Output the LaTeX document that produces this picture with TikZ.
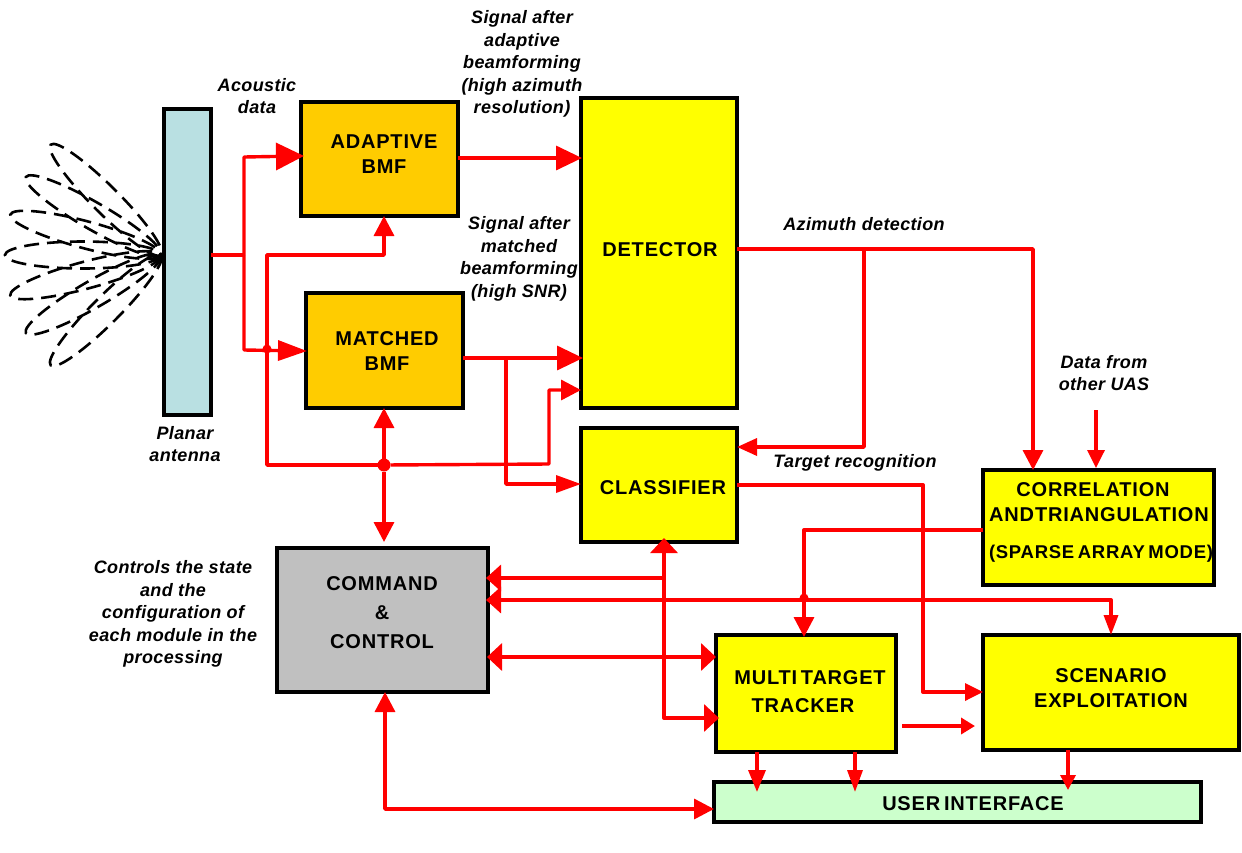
\documentclass[tikz,border=0pt]{standalone}
\usepackage{fontspec}
\setmainfont{Liberation Sans}
\newfontfamily\boxfont[LetterSpace=4,WordSpace=0.6]{Liberation Sans}
\newfontfamily\notefont[LetterSpace=2]{Liberation Sans}
\usetikzlibrary{arrows.meta,calc}
\definecolor{pureyellow}{RGB}{255,255,0}
\definecolor{amber}{RGB}{255,204,0}
\definecolor{palecyan}{RGB}{185,224,226}
\definecolor{panelgray}{RGB}{192,192,192}
\definecolor{palegreen}{RGB}{204,255,204}
\definecolor{wirered}{RGB}{255,0,0}
\tikzset{
  x=1pt,y=-1pt,
  box/.style={draw=black,line width=3.3pt,rectangle,inner sep=0pt,outer sep=0pt},
  boxtext/.style={font=\fontsize{20}{25}\boxfont\bfseries,align=center,inner sep=0pt},
  note/.style={font=\fontsize{18}{22.5}\notefont\bfseries\itshape,align=center,inner sep=0pt},
  wire/.style={draw=wirered,line width=3.4pt,line join=round},
  big/.style={-{Triangle[length=28pt,width=27pt]}},
  mid/.style={-{Triangle[length=26pt,width=24pt]}},
  std/.style={-{Triangle[length=20pt,width=20pt]}},
  stdboth/.style={{Triangle[length=20pt,width=20pt]}-{Triangle[length=20pt,width=20pt]}},
  thin tip/.style={-{Triangle[length=18pt,width=17pt]}},
  lobe/.style={draw=black,line width=2.6pt,dash pattern=on 15pt off 8pt},
  joint/.style={circle,fill=wirered,inner sep=0pt,outer sep=0pt}
}
\begin{document}
\begin{tikzpicture}
\useasboundingbox (0,0) rectangle (1242,852);

% beam pattern in front of the array
\coordinate (o) at (161,255);
\foreach \a in {-45,-30,-15,0,15,30,45}
  \draw[lobe,shift={(o)},rotate=\a] (-78,0) ellipse [x radius=78,y radius=13.5];

% processing blocks
\node[box,fill=palecyan,minimum width=47pt,minimum height=306pt] (antenna) at (187.5,262) {};
\node[box,fill=amber,minimum width=157pt,minimum height=114pt] (adaptive) at (379.5,159) {};
\node[box,fill=amber,minimum width=157pt,minimum height=115pt] (matched) at (384.5,350.5) {};
\node[box,fill=pureyellow,minimum width=156pt,minimum height=310pt] (detector) at (659,253) {};
\node[box,fill=pureyellow,minimum width=156pt,minimum height=114pt] (classifier) at (659,485) {};
\node[box,fill=panelgray,minimum width=211pt,minimum height=144pt] (command) at (382.5,620) {};
\node[box,fill=pureyellow,minimum width=180pt,minimum height=117pt] (tracker) at (806,693.5) {};
\node[box,fill=pureyellow,minimum width=256pt,minimum height=115pt] (scenario) at (1111,692.5) {};
\node[box,fill=pureyellow,minimum width=231pt,minimum height=115pt] (correlation) at (1098.5,527.5) {};
\node[box,fill=palegreen,minimum width=487pt,minimum height=40pt] (ui) at (957.5,802) {};

% block captions
\node[boxtext] (adaptive-t) at (384,154) {ADAPTIVE\\BMF};
\node[boxtext] (matched-t) at (387,351) {MATCHED\\BMF};
\node[boxtext] (detector-t) at (660,250) {DETECTOR};
\node[boxtext] (classifier-t) at (663,488) {CLASSIFIER};
\node[boxtext,font=\fontsize{20}{29}\boxfont\bfseries] (command-t) at (382,613) {COMMAND\\\&\\CONTROL};
\node[boxtext,font=\fontsize{20}{28}\boxfont\bfseries] (tracker-t) at (810,692) {MULTI TARGET\\\hspace*{-14pt}TRACKER};
\node[boxtext] (scenario-t) at (1111,688) {SCENARIO\\EXPLOITATION};
\node[boxtext] (correlation-t) at (1099,502) {\hspace*{-12pt}CORRELATION\\AND\hspace{1pt}TRIANGULATION};
\node[boxtext,font=\fontsize{18.5}{23}\boxfont\bfseries] (sparse-t) at (1101,554) {(SPARSE ARRAY MODE)};
\node[boxtext] (ui-t) at (973,804) {USER INTERFACE};

% annotations
\node[note] (n-acoustic) at (257,96) {Acoustic\\data};
\node[note] (n-adaptive) at (522,64) {Signal after\\adaptive\\beamforming\\(high azimuth\\resolution)};
\node[note] (n-matched) at (519,259) {Signal after\\matched\\beamforming\\(high SNR)};
\node[note] (n-planar) at (185,444) {Planar\\antenna};
\node[note] (n-azimuth) at (864,224) {Azimuth detection};
\node[note] (n-target) at (855,463) {Target recognition};
\node[note] (n-uas) at (1104,373) {Data from\\other UAS};
\node[note] (n-control) at (173,614) {Controls the state\\and the\\configuration of\\each module in the\\processing};

% junction points
\coordinate (split) at (244,255);
\coordinate (bus) at (384,465);
\coordinate (tap) at (506,358);
\coordinate (az) at (864,249);
\coordinate (ctl) at (664,578);
\coordinate (uas) at (1096,410);
\node[joint,minimum size=13pt] (bus-dot) at (bus) {};
\node[joint,minimum size=9pt] (cross-a) at (267,349) {};
\node[joint,minimum size=9pt] (cross-b) at (804,598) {};

% acoustic data feed
\draw[wire] (antenna.east |- split) -- (split);
\draw[wire,big,shorten >=-3pt] (split) -- (244,157) -- (adaptive.west |- 0,156);
\draw[wire,-{Triangle[length=29pt,width=20pt]},shorten >=-1pt] (split) -- (244,350) -- (matched.west |- 0,351);

% control bus
\draw[wire,std] (bus-dot) -- (matched.south -| bus);
\draw[wire,std,shorten >=6pt] (bus-dot) -- (command.north -| bus);
\draw[wire,std] (bus-dot) -- (267,465) -- (267,255) -- (384,255) -- (adaptive.south -| 384,0);
\draw[wire,-{Triangle[length=20pt,width=20pt]}] (bus-dot) -- (549,464) -- (549,390) -- (detector.west |- 0,390);

% signal paths
\draw[wire,mid,shorten >=-1pt] (adaptive.east |- 0,158) -- (detector.west |- 0,158);
\draw[wire,mid,shorten >=-2pt] (matched.east |- tap) -- (detector.west |- tap);
\draw[wire,-{Triangle[length=25pt,width=17pt]}] (tap) -- (506,484) -- (classifier.west |- 0,484);
\draw[wire,std] (detector.east |- az) -- (1033,249) -- (correlation.north -| 1033,0);
\draw[wire,-{Triangle[length=20pt,width=17pt]}] (az) -- (864,447) -- (classifier.east |- 0,447);
\draw[wire,thin tip] (classifier.east |- 0,485) -- (923,485) -- (923,692) -- (scenario.west |- 0,692);
\draw[wire,thin tip] (uas) -- (1096,468);
\draw[wire,std,shorten >=-2pt] (correlation.west |- 0,530) -- (804,530) -- (tracker.north -| 804,0);

% command and control links
\draw[wire,{Triangle[length=15pt,width=26pt]}-{Triangle[length=20pt,width=14pt]},shorten <=-2pt] (command.east |- 0,600) -- (1111,600) -- (scenario.north -| 1111,0);
\draw[wire,{Triangle[length=15pt,width=26pt]}-,shorten <=-2pt] (command.east |- ctl) -- (ctl);
\draw[wire,{Triangle[length=15pt,width=27pt]}-{Triangle[length=15pt,width=27pt]},shorten <=-1pt] (command.east |- 0,657) -- (tracker.west |- 0,657);
\draw[wire,{Triangle[length=15pt,width=27pt]}-{Triangle[length=15pt,width=27pt]},shorten <=-4pt,shorten >=-3pt] (classifier.south -| 664,0) -- (664,718) -- (tracker.west |- 0,718);
\draw[wire,stdboth] (command.south -| 385,0) -- (385,809) -- (ui.west |- 0,809);

% tracker and scenario outputs
\draw[wire,line width=4.6pt,-{Triangle[length=14pt,width=16pt]}] (tracker.east |- 0,726) ++(6,0) -- (975,726);
\draw[wire,-{Triangle[length=22pt,width=17pt]}] (tracker.south -| 757,0) -- (757,792);
\draw[wire,-{Triangle[length=22pt,width=15pt]}] (tracker.south -| 855,0) -- (855,792);
\draw[wire,-{Triangle[length=15pt,width=15pt]}] (scenario.south -| 1068,0) -- (1068,790);
\end{tikzpicture}
\end{document}
